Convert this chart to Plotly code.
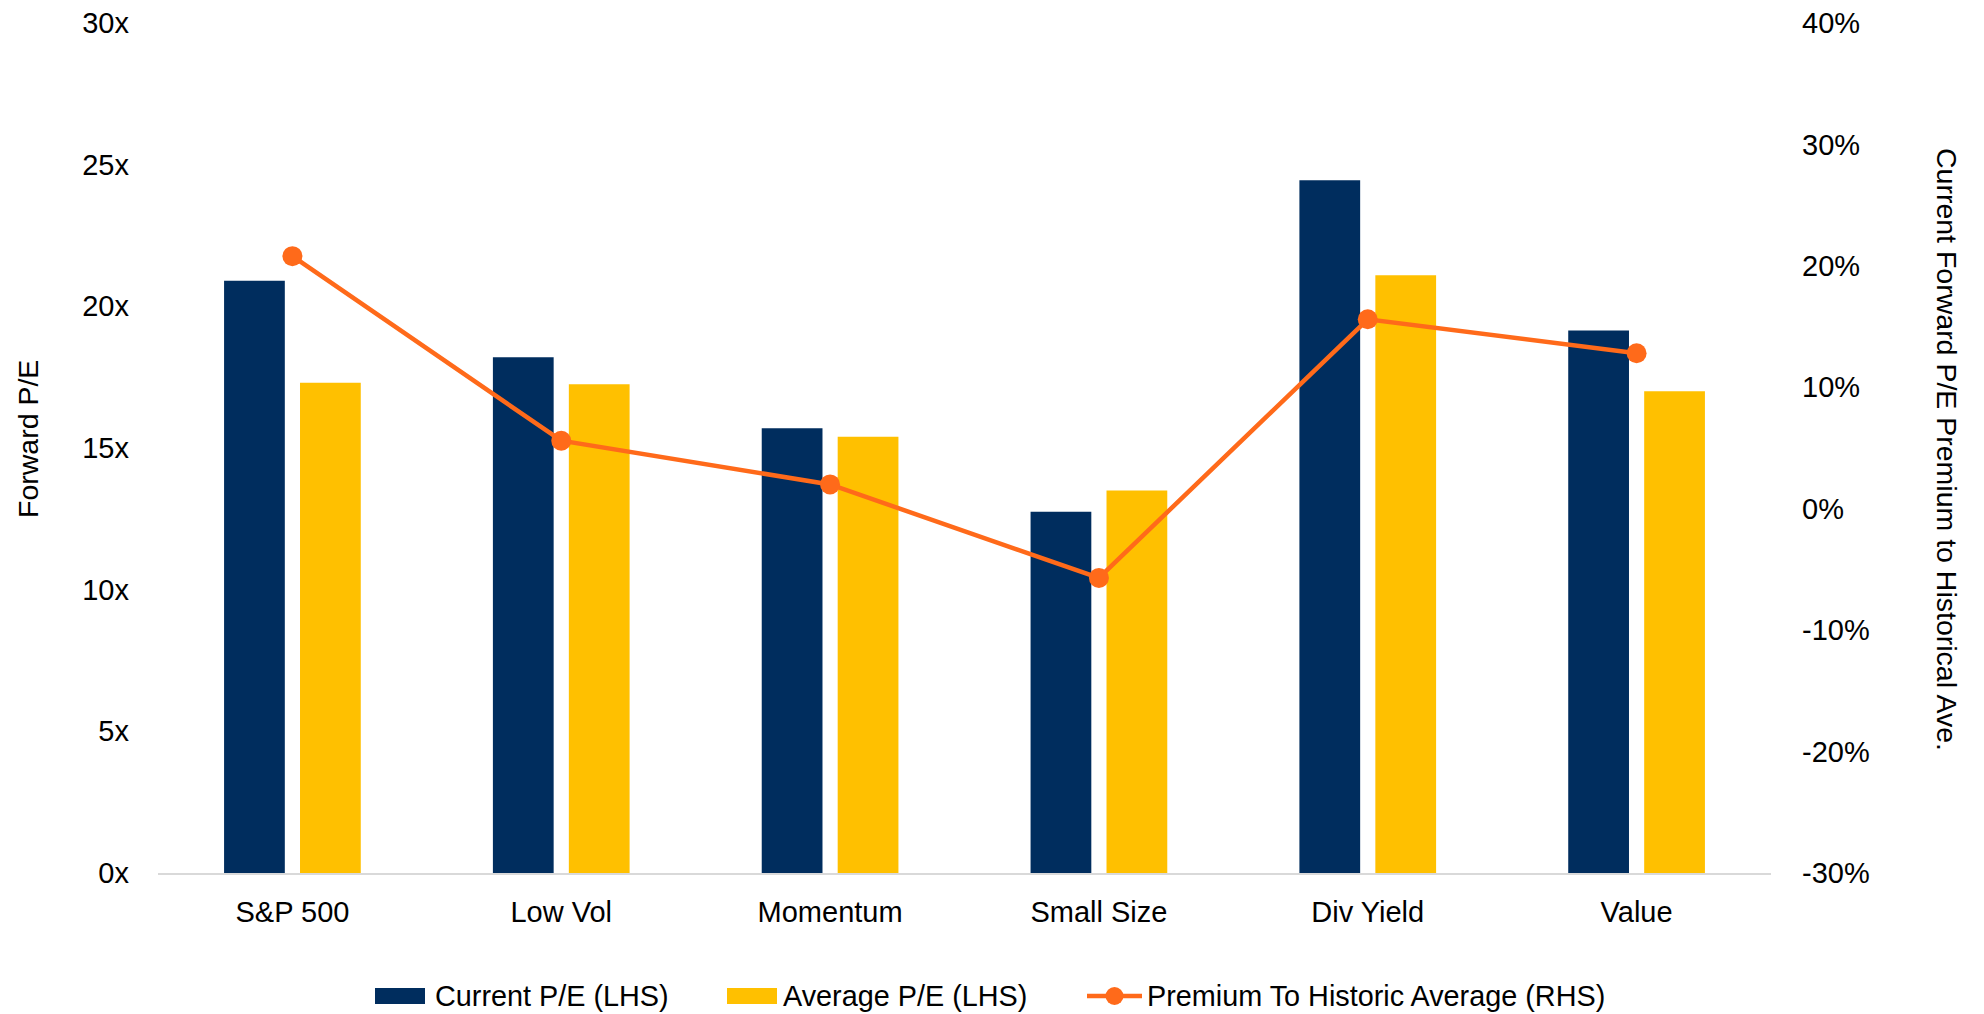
import plotly.graph_objects as go

# Factor groups on the x axis
categories = ["S&P 500", "Low Vol", "Momentum", "Small Size", "Div Yield", "Value"]

# Forward P/E multiples (left axis)
current_pe = [20.9, 18.2, 15.7, 12.75, 24.45, 19.15]
average_pe = [17.3, 17.25, 15.4, 13.5, 21.1, 17.0]

# Premium of current forward P/E over its historical average, in % (right axis)
premium_pct = [20.8, 5.6, 2.0, -5.7, 15.6, 12.8]

# Axis ticks
left_ticks = [0, 5, 10, 15, 20, 25, 30]
right_ticks = [-30, -20, -10, 0, 10, 20, 30, 40]

NAVY = "#002D5E"
GOLD = "#FFC000"
ORANGE = "#FF6A1A"
AXIS_GREY = "#D9D9D9"
FONT = "Liberation Sans, Arial, sans-serif"

W, H = 1984, 1014
ML, MR, MT, MB = 158, 213, 23, 141

fig = go.Figure()
fig.add_trace(go.Bar(x=categories, y=current_pe, name="Current P/E (LHS)",
                     marker=dict(color=NAVY, line=dict(width=0)), yaxis="y"))
fig.add_trace(go.Bar(x=categories, y=average_pe, name="Average P/E (LHS)",
                     marker=dict(color=GOLD, line=dict(width=0)), yaxis="y"))
fig.add_trace(go.Scatter(x=categories, y=premium_pct, name="Premium To Historic Average (RHS)",
                         mode="lines+markers", yaxis="y2",
                         line=dict(color=ORANGE, width=4.5),
                         marker=dict(color=ORANGE, size=20)))

tick_font = dict(family=FONT, size=29, color="#000000")

fig.update_layout(
    width=W, height=H,
    margin=dict(l=ML, r=MR, t=MT, b=MB, autoexpand=False),
    paper_bgcolor="white", plot_bgcolor="white",
    showlegend=False,
    barmode="group", bargap=0.435, bargroupgap=0.2,
    xaxis=dict(showline=True, linecolor=AXIS_GREY, linewidth=2, ticks="",
               showgrid=False, zeroline=False, tickfont=tick_font,
               ticklabelstandoff=12, automargin=False),
    yaxis=dict(range=[0, 30], tickvals=left_ticks,
               ticktext=[f"{v}x" for v in left_ticks],
               showgrid=False, zeroline=False, showline=False, ticks="",
               tickfont=tick_font, ticklabelstandoff=28, automargin=False),
    yaxis2=dict(range=[-30, 40], tickvals=right_ticks,
                ticktext=[f"{v}%" for v in right_ticks],
                overlaying="y", side="right",
                showgrid=False, zeroline=False, showline=False, ticks="",
                tickfont=tick_font, ticklabelstandoff=30, automargin=False),
)


def px_x(px):
    return (px - ML) / (W - ML - MR)


def px_y(py):
    return 1 - (py - MT) / (H - MT - MB)


# Axis titles
fig.add_annotation(text="Forward P/E", xref="paper", yref="paper",
                   x=px_x(28), y=px_y(439),
                   xanchor="center", yanchor="middle", textangle=-90, showarrow=False,
                   font=dict(family=FONT, size=28.5, color="#000000"))
fig.add_annotation(text="Current Forward P/E Premium to Historical Ave.", xref="paper", yref="paper",
                   x=px_x(1947), y=px_y(449),
                   xanchor="center", yanchor="middle", textangle=90, showarrow=False,
                   font=dict(family=FONT, size=28.5, color="#000000"))

# Legend row drawn in pixel space below the plot
legend_y = 996
legend_items = [
    ("rect", NAVY, 375, 425, 433, "Current P/E (LHS)"),
    ("rect", GOLD, 727, 777, 781, "Average P/E (LHS)"),
    ("line", ORANGE, 1087, 1142, 1145, "Premium To Historic Average (RHS)"),
]
for kind, color, x0, x1, tx, label in legend_items:
    if kind == "rect":
        fig.add_shape(type="rect", xref="paper", yref="paper",
                      x0=px_x(x0), x1=px_x(x1), y0=px_y(legend_y + 8), y1=px_y(legend_y - 8),
                      fillcolor=color, line=dict(width=0))
    else:
        fig.add_shape(type="line", xref="paper", yref="paper",
                      x0=px_x(x0), x1=px_x(x1), y0=px_y(legend_y), y1=px_y(legend_y),
                      line=dict(color=color, width=4.5))
        cx = (x0 + x1) / 2
        fig.add_shape(type="circle", xref="paper", yref="paper",
                      x0=px_x(cx - 9), x1=px_x(cx + 9), y0=px_y(legend_y + 9), y1=px_y(legend_y - 9),
                      fillcolor=color, line=dict(width=0))
    fig.add_annotation(text=label, xref="paper", yref="paper",
                       x=px_x(tx), y=px_y(legend_y), xanchor="left", yanchor="middle",
                       showarrow=False, font=dict(family=FONT, size=28.8, color="#000000"))

fig.write_html("out.html")
